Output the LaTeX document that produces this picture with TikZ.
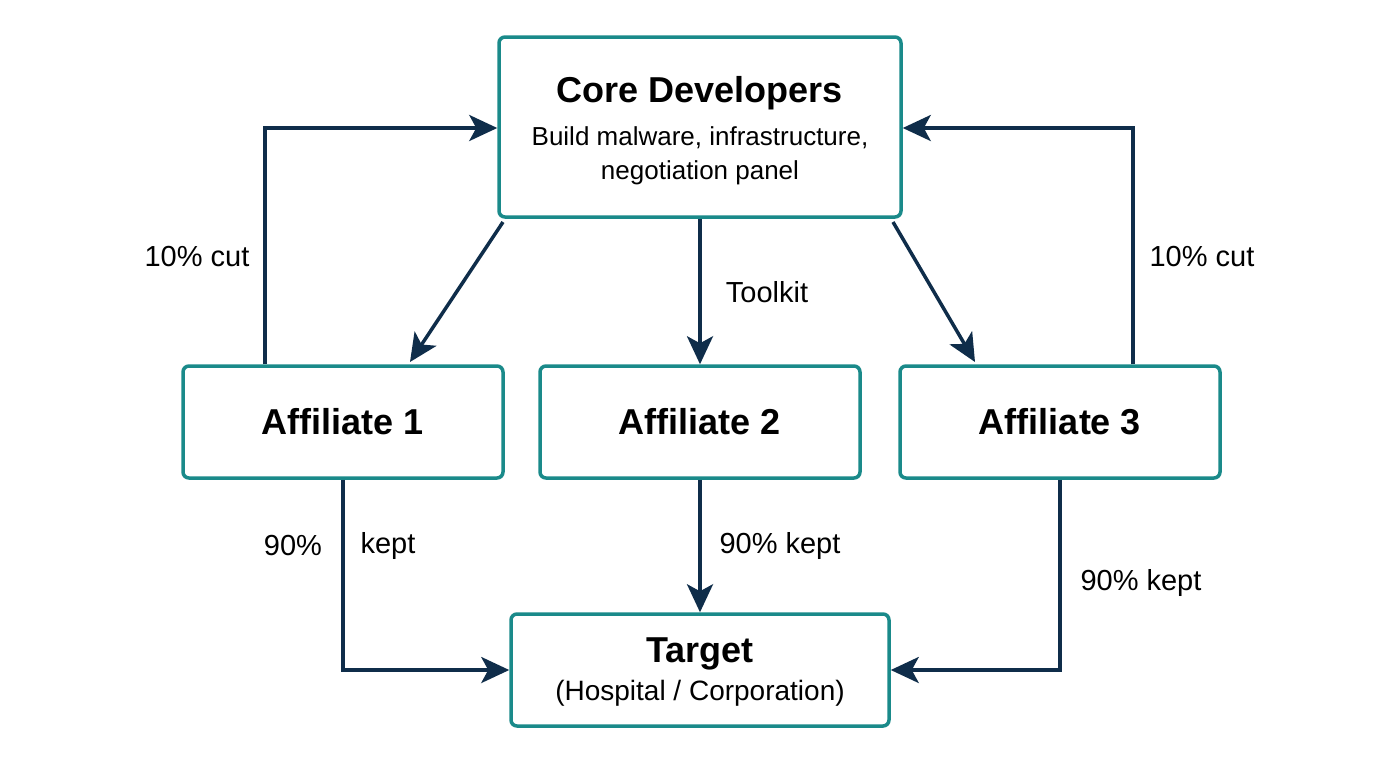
\documentclass[tikz,border=0pt]{standalone}
\usepackage{fontspec}
\setmainfont{Liberation Sans}
\usetikzlibrary{arrows.meta}
\definecolor{teal1}{HTML}{1A8A8A}
\definecolor{navy}{HTML}{0F2D4A}
\begin{document}
\begin{tikzpicture}[x=1pt,y=-1pt,
 box/.style={draw=teal1,line width=3.5pt,rounded corners=6pt,fill=white,inner sep=0},
 arr/.style={draw=navy,line width=3.5pt,-{Stealth[length=28pt,width=26pt,inset=7pt]}},
 lbl/.style={font=\fontsize{29}{34}\selectfont,text=black},
 t1/.style={font=\fontsize{36}{42}\selectfont\bfseries},
 t2/.style={font=\fontsize{26}{34}\selectfont}]
\useasboundingbox (0,0) rectangle (1400,764);
\node[box,minimum width=402pt,minimum height=180pt] (core) at (700,127) {};
\node[t1] (coret) at (700,93) {Core Developers};
\node[t2,align=center] (cores) at (700,156) {Build malware, infrastructure,\\negotiation panel};
\node[box,minimum width=320pt,minimum height=112pt,t1] (a1) at (343,422) {Affiliate 1};
\node[box,minimum width=320pt,minimum height=112pt,t1] (a2) at (700,422) {Affiliate 2};
\node[box,minimum width=320pt,minimum height=112pt,t1] (a3) at (1060,422) {Affiliate 3};
\node[box,minimum width=378pt,minimum height=112pt] (tg) at (700,670) {};
\node[t1] (tgt) at (700,654) {Target};
\node[font=\fontsize{28}{32}\selectfont] (tgs) at (700,693) {(Hospital / Corporation)};
\coordinate (c1) at (503,222); \coordinate (c3) at (893,222);
\coordinate (e1) at (410,362); \coordinate (e3) at (975,362);
\draw[arr] (c1) -- (e1);
\draw[arr] (core.south) -- (a2.north);
\draw[arr] (c3) -- (e3);
\draw[arr] (a1.north -| 265,0) |- (core.west |- 0,128);
\draw[arr] (a3.north -| 1133,0) |- (core.east |- 0,128);
\draw[arr] (a1.south) |- (tg.west);
\draw[arr] (a2.south) -- (tg.north);
\draw[arr] (a3.south -| 1060,0) |- (tg.east);
\node[lbl] (l1) at (197,257) {10\% cut};
\node[lbl] (l2) at (1202,257) {10\% cut};
\node[lbl] (l3) at (767,292) {Toolkit};
\node[lbl] (l4) at (293,546) {90\%};
\node[lbl] (l5) at (388,546) {kept};
\node[lbl] (l6) at (780,546) {90\% kept};
\node[lbl] (l7) at (1141,583) {90\% kept};
\end{tikzpicture}
\end{document}
